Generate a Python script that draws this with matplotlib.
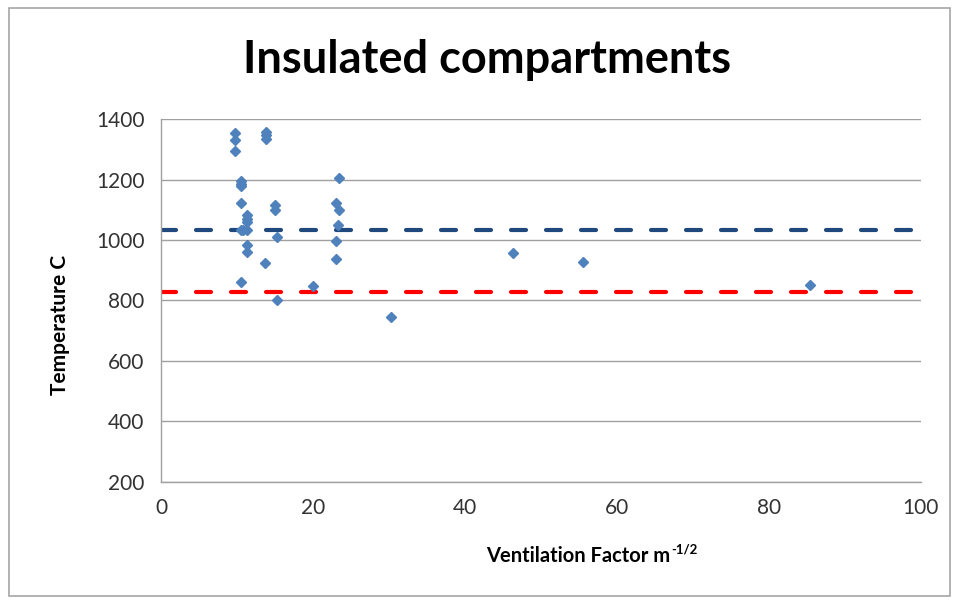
import matplotlib
matplotlib.use('Agg')
import matplotlib.pyplot as plt
from matplotlib.patches import Rectangle

plt.rcParams['font.family'] = ['Lato', 'DejaVu Sans']

# ventilation factor (m^-1/2) and temperature (C)
vent = [9.7, 9.7, 9.7,
        10.5, 10.5, 10.5, 10.5, 10.5, 10.5, 10.8,
        11.3, 11.3, 11.3, 11.3, 11.3, 11.3,
        13.8, 13.8, 13.8, 13.7,
        15.0, 15.0, 15.3, 15.3,
        20.0,
        23.5, 23.0, 23.5, 23.3, 23.0, 23.0,
        30.3, 46.4, 55.5, 85.4]
temp = [1354, 1332, 1295,
        1195, 1186, 1178, 1122, 1033, 862, 1033,
        1083, 1070, 1060, 1033, 984, 962,
        1358, 1348, 1336, 923,
        1116, 1100, 1011, 800,
        849,
        1205, 1122, 1100, 1050, 997, 937,
        746, 958, 928, 851]

mean_line = 1035
low_line = 828

title = 'Insulated compartments'
xlabel = 'Ventilation Factor m'
xlabel_sup = '-1/2'
ylabel = 'Temperature C'
xticks = [0, 20, 40, 60, 80, 100]
yticks = [200, 400, 600, 800, 1000, 1200, 1400]

fig = plt.figure(figsize=(9.57, 6.0), dpi=100)
fig.patches.append(Rectangle((0.009, 0.006), 0.984, 0.981, transform=fig.transFigure,
                             fill=False, edgecolor='#a6a6a6', linewidth=1.2))
ax = fig.add_axes([0.1682, 0.1972, 0.7938, 0.604])

ax.set_xlim(0, 100)
ax.set_ylim(200, 1400)
ax.set_xticks(xticks)
ax.set_yticks(yticks)
ax.yaxis.grid(True, color='#a0a0a0', linewidth=1.0)
ax.set_axisbelow(True)
for side in ['top', 'right']:
    ax.spines[side].set_visible(False)
for side in ['left', 'bottom']:
    ax.spines[side].set_color('#a0a0a0')
    ax.spines[side].set_linewidth(1.0)
ax.tick_params(length=0, labelsize=15, labelcolor='#333333', pad=12)

ax.axhline(mean_line, color='#1f497d', linewidth=3, linestyle=(0, (3.6, 4.8)),
           dash_capstyle='round', zorder=2)
ax.axhline(low_line, color='#ff0000', linewidth=3, linestyle=(0, (3.6, 4.8)),
           dash_capstyle='round', zorder=2)
ax.plot(vent, temp, linestyle='none', marker='D', markersize=5, color='#4f81bd', zorder=3)

fig.text(0.509, 0.9, title, ha='center', va='center', fontsize=32.5, fontweight='bold')
fig.text(0.063, 0.458, ylabel, ha='center', va='center', rotation=90, fontsize=15, fontweight='bold')
xl = fig.text(0.508, 0.073, xlabel, ha='left', va='center', fontsize=14.5, fontweight='bold')
ax.annotate(xlabel_sup, xy=(1.0, 0.55), xycoords=xl, xytext=(0.5, 0), textcoords='offset points',
            ha='left', va='bottom', fontsize=9.5, fontweight='bold', annotation_clip=False)

fig.savefig('out.png', dpi=100)
